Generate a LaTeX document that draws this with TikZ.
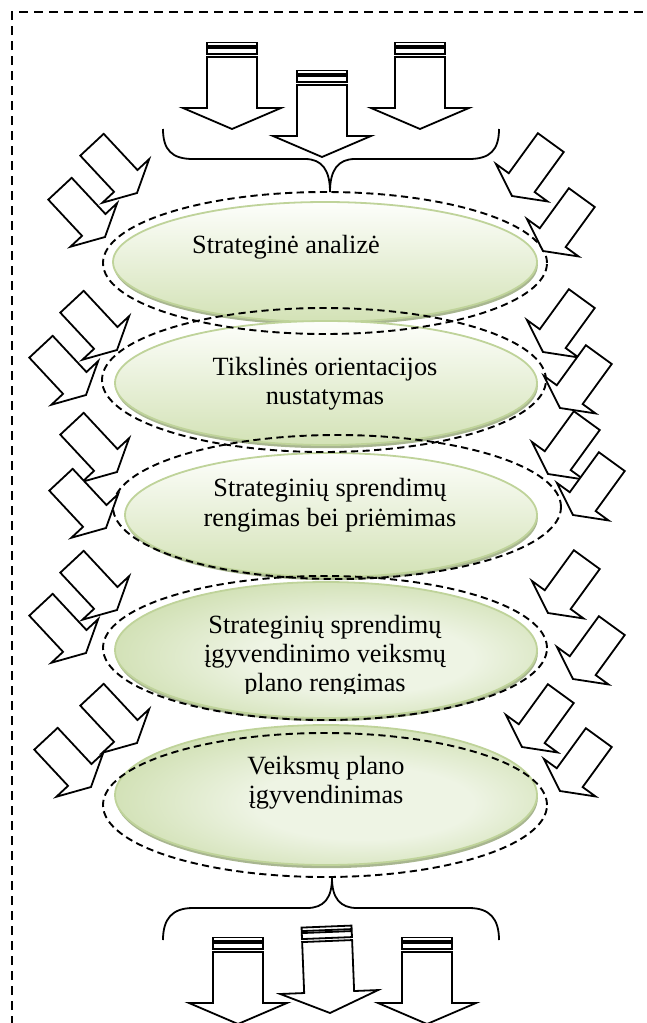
\documentclass[tikz,border=0pt]{standalone}
\usepackage{fontspec}
\setmainfont{Liberation Serif}
\usetikzlibrary{shapes.geometric,shadows}

\definecolor{ellline}{HTML}{BFD39A}
\definecolor{elltop}{HTML}{FDFEFB}
\definecolor{ellbot}{HTML}{D3E2B6}
\definecolor{ellin}{HTML}{EEF4E4}
\definecolor{ellout}{HTML}{C9DBA7}
\definecolor{ellshadow}{HTML}{9FAE84}

% soft glow, lighter towards the lower right
\pgfdeclareradialshading{stageglow}{\pgfpoint{6bp}{-4bp}}{%
  color(0bp)=(ellin); color(13bp)=(ellin); color(33bp)=(ellout); color(50bp)=(ellout)}

\tikzset{
  outline/.style={draw=black, line width=0.9pt, line join=miter, fill=white},
  brace/.style={draw=black, line width=0.9pt},
  frame/.style={draw=black, line width=0.9pt, dash pattern=on 4.5pt off 3pt},
  lbl/.style={font=\fontsize{13.15pt}{14.6pt}\selectfont, inner sep=0pt, anchor=base, text=black},
  stageell/.style={ellipse, inner sep=0pt, draw=ellline, line width=0.9pt,
    drop shadow={shadow xshift=0.4pt, shadow yshift=-1.6pt, fill=ellshadow, opacity=0.9}},
  linfill/.style={top color=elltop, bottom color=ellbot},
  radfill/.style={shading=stageglow},
  ringell/.style={ellipse, inner sep=0pt, draw=black, line width=0.95pt, dash pattern=on 3.6pt off 2.2pt},
  % diagonal block arrow, tip at the origin, pointing along +x
  sidearr/.pic={
    \draw[outline] (-66,16) -- (-16.5,16) -- (-16.5,32) -- (0,0) -- (-16.5,-32)
      -- (-16.5,-16) -- (-66,-16) -- cycle;
  },
  % striped block arrow pointing down, tip at the origin
  striparr/.pic={
    \draw[outline] (-25,-72) -- (25,-72) -- (25,-21) -- (49,-21) -- (0,0)
      -- (-49,-21) -- (-25,-21) -- cycle;
    \draw[outline] (-25,-81) rectangle (25,-75);
    \draw[outline] (-25,-86.5) rectangle (25,-83);
  },
}

\begin{document}
\begin{tikzpicture}[x=0.5pt,y=-0.5pt]
\useasboundingbox (0,0) rectangle (647,1023);

% outer dashed frame
\draw[frame] (12,1040) -- (12,12) -- (660,12);

% incoming arrows and top brace
\pic at (232,129) {striparr};
\pic at (322,157) {striparr};
\pic at (420,129) {striparr};
\draw[brace] (163,129) .. controls (163,150) and (172,159) .. (193,159) -- (305,159)
  .. controls (322,159) and (330,170) .. (330,192)
  .. controls (330,170) and (338,159) .. (355,159) -- (469,159)
  .. controls (490,159) and (499,150) .. (499,129);

% bottom brace and outgoing arrows
\draw[brace] (163,940) .. controls (163,919) and (172,908) .. (193,908) -- (307,908)
  .. controls (324,908) and (332,898) .. (332,878)
  .. controls (332,898) and (340,908) .. (357,908) -- (469,908)
  .. controls (490,908) and (499,919) .. (499,940);
\pic at (238,1024) {striparr};
\pic[rotate=2.3] at (330,1013) {striparr};
\pic at (427,1024) {striparr};

% stages
\node (e1) [stageell, linfill, minimum width=212pt, minimum height=60pt] at (325,262) {};
\node (e2) [stageell, linfill, minimum width=211pt, minimum height=62pt] at (326,383) {};
\node (e3) [stageell, linfill, minimum width=206pt, minimum height=62pt] at (331,515) {};
\node (e4) [stageell, radfill, minimum width=211pt, minimum height=68pt] at (326,650) {};
\node (e5) [stageell, radfill, minimum width=211pt, minimum height=70pt] at (326,795) {};

% stage labels
\node (t1)  [lbl] at (286,253) {Strateginė analizė};
\node (t2a) [lbl] at (325,375) {Tikslinės orientacijos};
\node (t2b) [lbl] at (325,404) {nustatymas};
\node (t3a) [lbl] at (330,496) {Strateginių sprendimų};
\node (t3b) [lbl] at (330,526) {rengimas bei priėmimas};
\node (t4a) [lbl] at (325,633) {Strateginių sprendimų};
\node (t4b) [lbl] at (325,662) {įgyvendinimo veiksmų};
\begin{scope}
  \clip (0,560) rectangle (647,693.5);
  \node (t4c) [lbl] at (325,691) {plano rengimas};
\end{scope}
\node (t5a) [lbl] at (326,774) {Veiksmų plano};
\node (t5b) [lbl] at (326,803) {įgyvendinimas};

% dashed rings round the stages
\node (d1) [ringell, minimum width=222pt, minimum height=71pt] at (325,263) {};
\node (d2) [ringell, minimum width=222pt, minimum height=72pt] at (324,380) {};
\node (d3) [ringell, minimum width=224pt, minimum height=72pt] at (337,507) {};
\node (d4) [ringell, minimum width=222pt, minimum height=72pt] at (325,648) {};
\node (d5) [ringell, minimum width=222pt, minimum height=72pt] at (325,805) {};

% influences from the left
\foreach \tx/\ty in {137/193, 105/237, 117/350, 86/395, 117/472, 106/528,
                     117/610, 86/653, 137/743, 91/787}
  \pic[rotate=-47] at (\tx,\ty) {sidearr};

% influences from the right
\foreach \tx/\ty in {512/196, 543/251, 543/352, 560/408, 548/474, 573/515,
                     548/613, 573/679, 522/747, 560/791}
  \pic[rotate=234] at (\tx,\ty) {sidearr};
\end{tikzpicture}
\end{document}
